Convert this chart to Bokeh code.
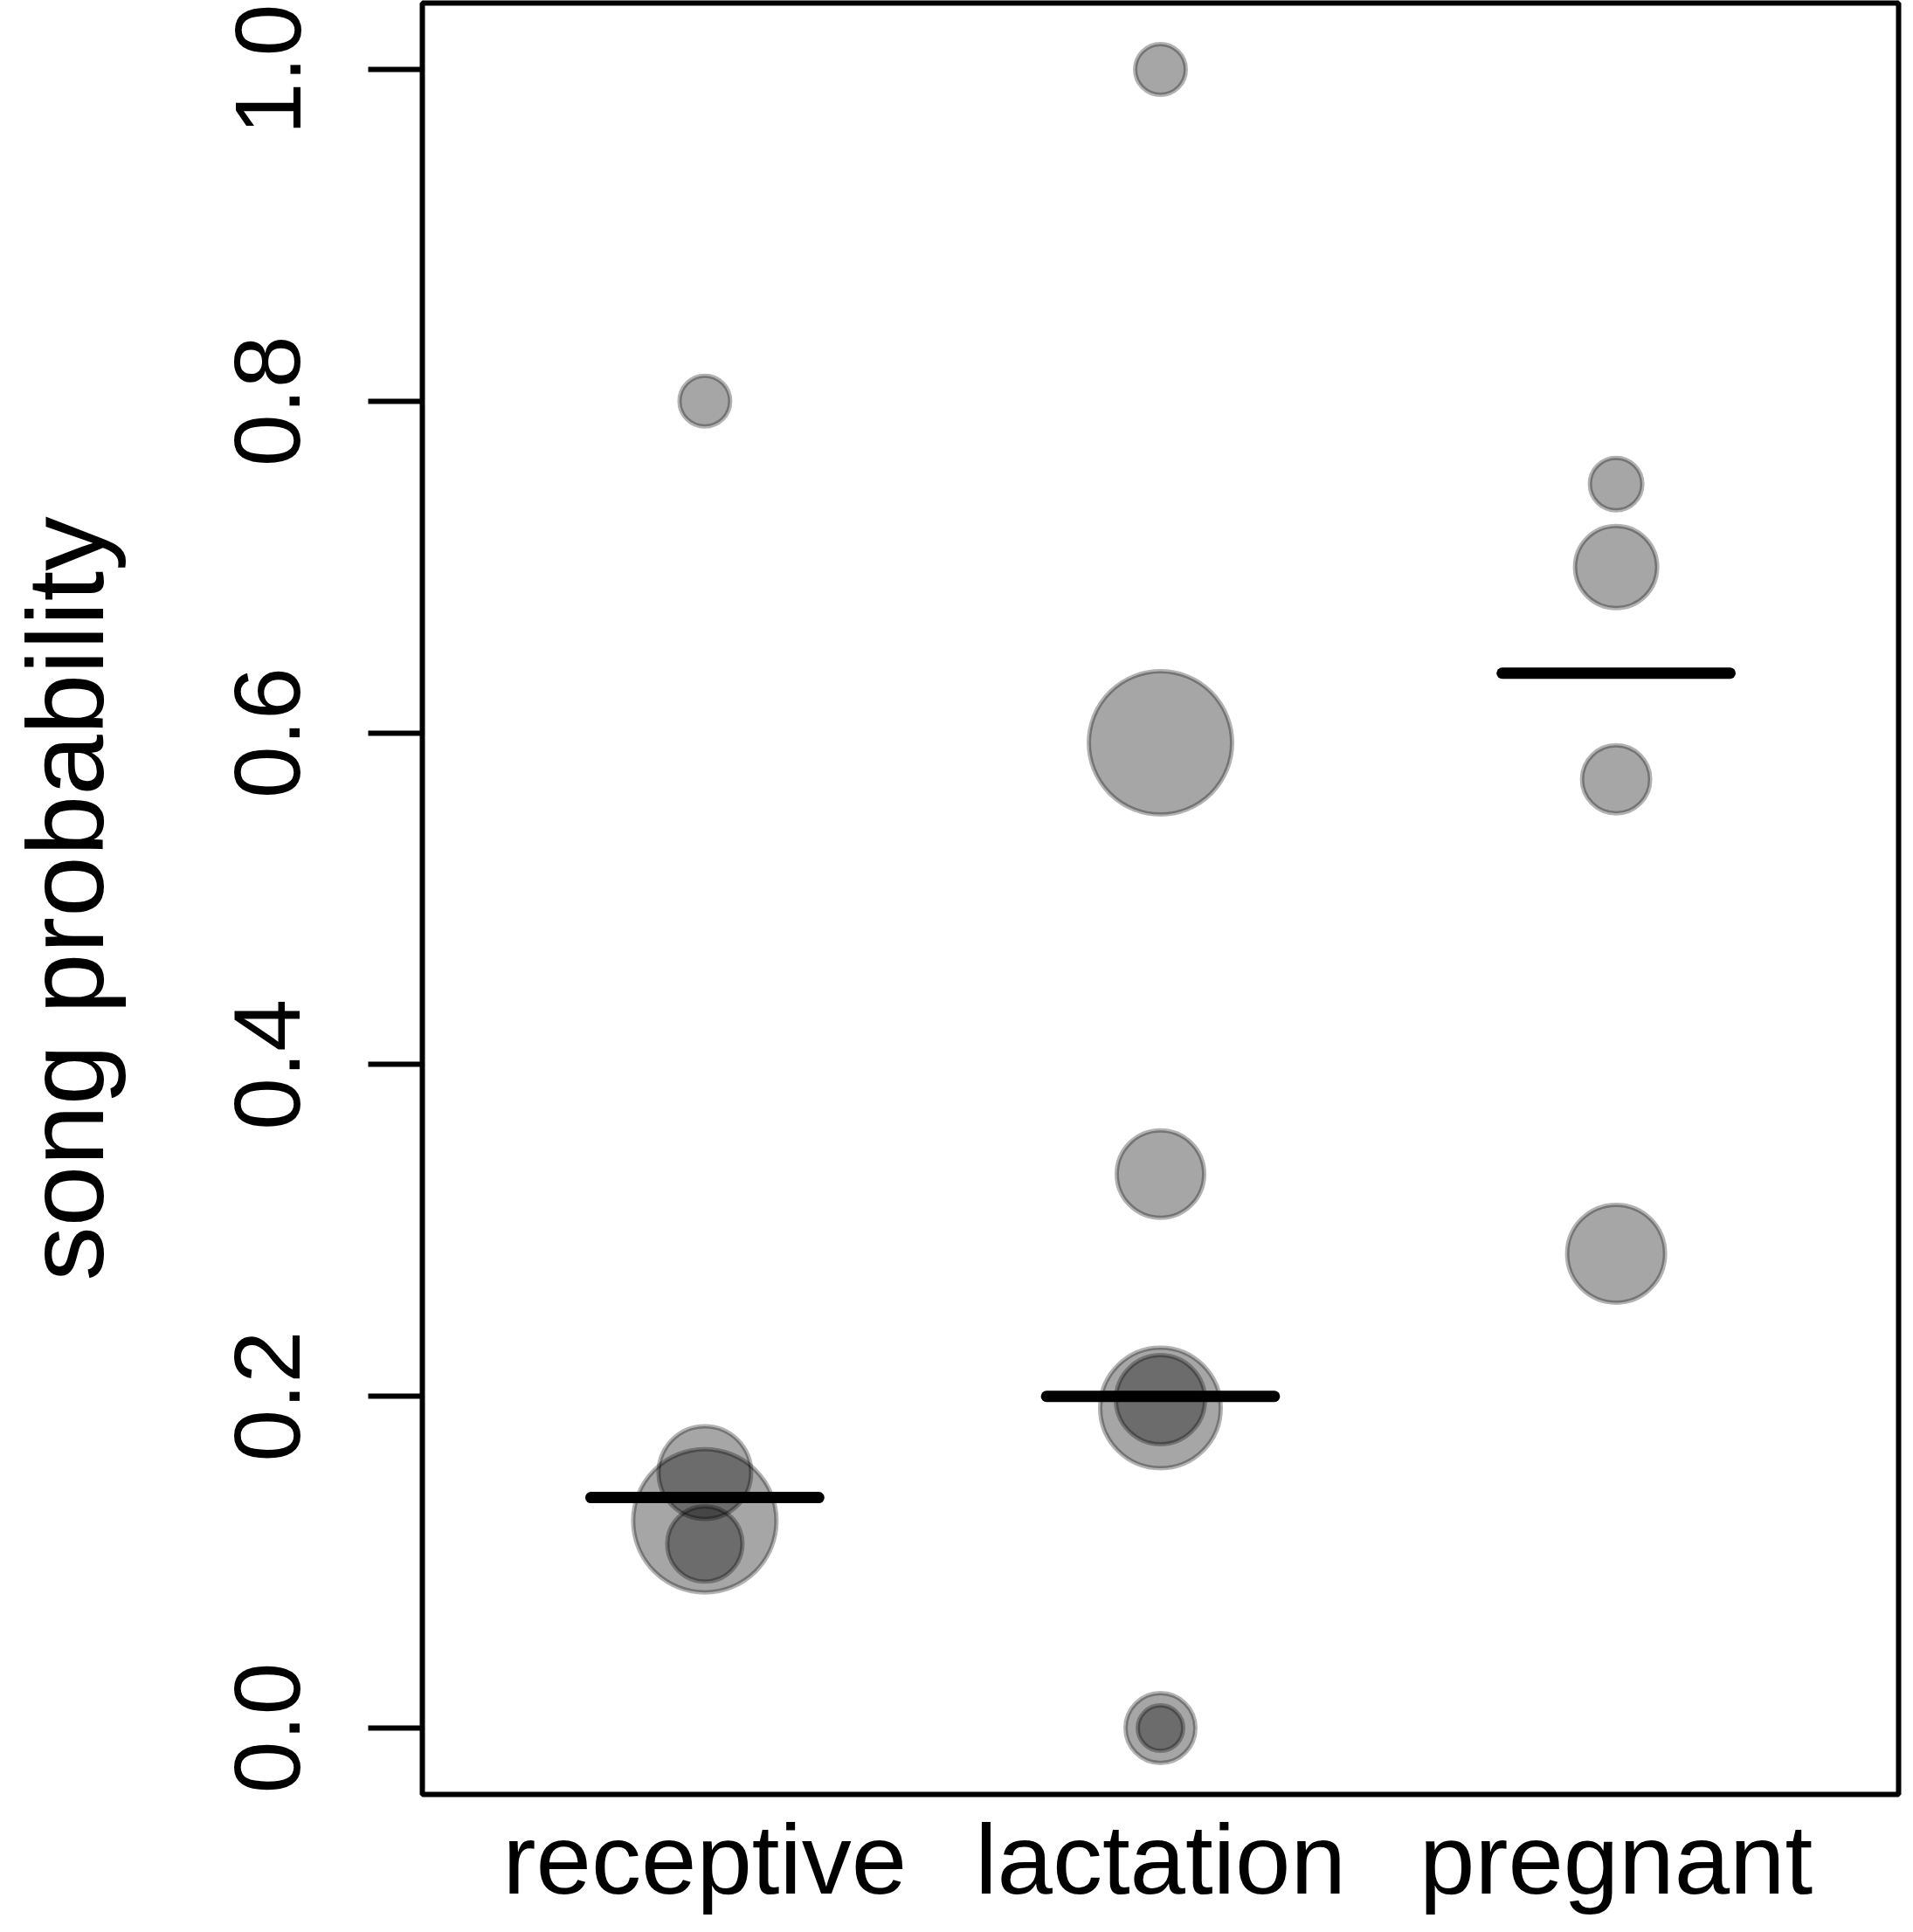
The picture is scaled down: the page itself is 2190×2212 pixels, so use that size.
from bokeh.plotting import figure
from bokeh.models import FixedTicker, PrintfTickFormatter, ColumnDataSource, Range1d
from bokeh.embed import file_html
from bokeh.resources import INLINE

# ---- data ----
categories = ["receptive", "lactation", "pregnant"]

receptive_values = [0.80, 0.125, 0.154, 0.111]
receptive_weight = [2.9, 8.2, 5.3, 4.3]

lactation_values = [1.00, 0.594, 0.334, 0.193, 0.198, 0.0, 0.0]
lactation_weight = [2.9, 8.2, 5.0, 6.9, 5.1, 4.0, 2.6]

pregnant_values = [0.75, 0.70, 0.572, 0.286]
pregnant_weight = [3.0, 4.7, 3.9, 5.6]

group_means = [0.139, 0.200, 0.636]

y_ticks = [0.0, 0.2, 0.4, 0.6, 0.8, 1.0]

# ---- build sources ----
xs, ys, ws = [], [], []
for i, (vals, wts) in enumerate([(receptive_values, receptive_weight),
                                 (lactation_values, lactation_weight),
                                 (pregnant_values, pregnant_weight)]):
    for v, w in zip(vals, wts):
        xs.append(i + 1)
        ys.append(v)
        ws.append(w)

PX_PER_WEIGHT = 10.0
pts = ColumnDataSource(dict(x=xs, y=ys, size=[2 * w * PX_PER_WEIGHT for w in ws]))

half = 0.25
means = ColumnDataSource(dict(
    x0=[i + 1 - half for i in range(len(categories))],
    x1=[i + 1 + half for i in range(len(categories))],
    y=group_means,
))

FONT = "Liberation Sans"

p = figure(
    width=2179, height=2196,
    min_border_left=483, min_border_right=6, min_border_top=3, min_border_bottom=142,
    x_range=Range1d(0.38, 3.62), y_range=Range1d(-0.04, 1.04),
    output_backend="svg", toolbar_location=None,
)
p.grid.visible = False
p.background_fill_color = "white"
p.border_fill_color = "white"
p.outline_line_color = "black"
p.outline_line_width = 6

p.scatter("x", "y", size="size", source=pts, marker="circle",
          fill_color="black", fill_alpha=0.35,
          line_color="black", line_alpha=0.3, line_width=5)

p.segment(x0="x0", y0="y", x1="x1", y1="y", source=means,
          line_color="black", line_width=13, line_cap="round")

# y axis
ya = p.yaxis[0]
ya.ticker = FixedTicker(ticks=y_ticks)
ya.formatter = PrintfTickFormatter(format="%.1f")
ya.axis_line_color = None
ya.major_tick_out = 62
ya.major_tick_in = 0
ya.major_tick_line_width = 6
ya.minor_tick_line_color = None
ya.major_label_orientation = "parallel"
ya.major_label_text_font = FONT
ya.major_label_text_font_size = "108px"
ya.major_label_text_color = "black"
ya.major_label_standoff = 78
ya.axis_label = "song probability"
ya.axis_label_text_font = FONT
ya.axis_label_text_font_size = "125px"
ya.axis_label_text_font_style = "normal"
ya.axis_label_text_color = "black"
ya.axis_label_standoff = 123

# x axis
xa = p.xaxis[0]
xa.ticker = FixedTicker(ticks=[1, 2, 3])
xa.major_label_overrides = {i + 1: c for i, c in enumerate(categories)}
xa.axis_line_color = None
xa.major_tick_line_color = None
xa.major_tick_out = 0
xa.major_tick_in = 0
xa.minor_tick_line_color = None
xa.major_label_text_font = FONT
xa.major_label_text_font_size = "114px"
xa.major_label_text_color = "black"
xa.major_label_standoff = 10

open("out.html", "w").write(file_html(p, INLINE))
